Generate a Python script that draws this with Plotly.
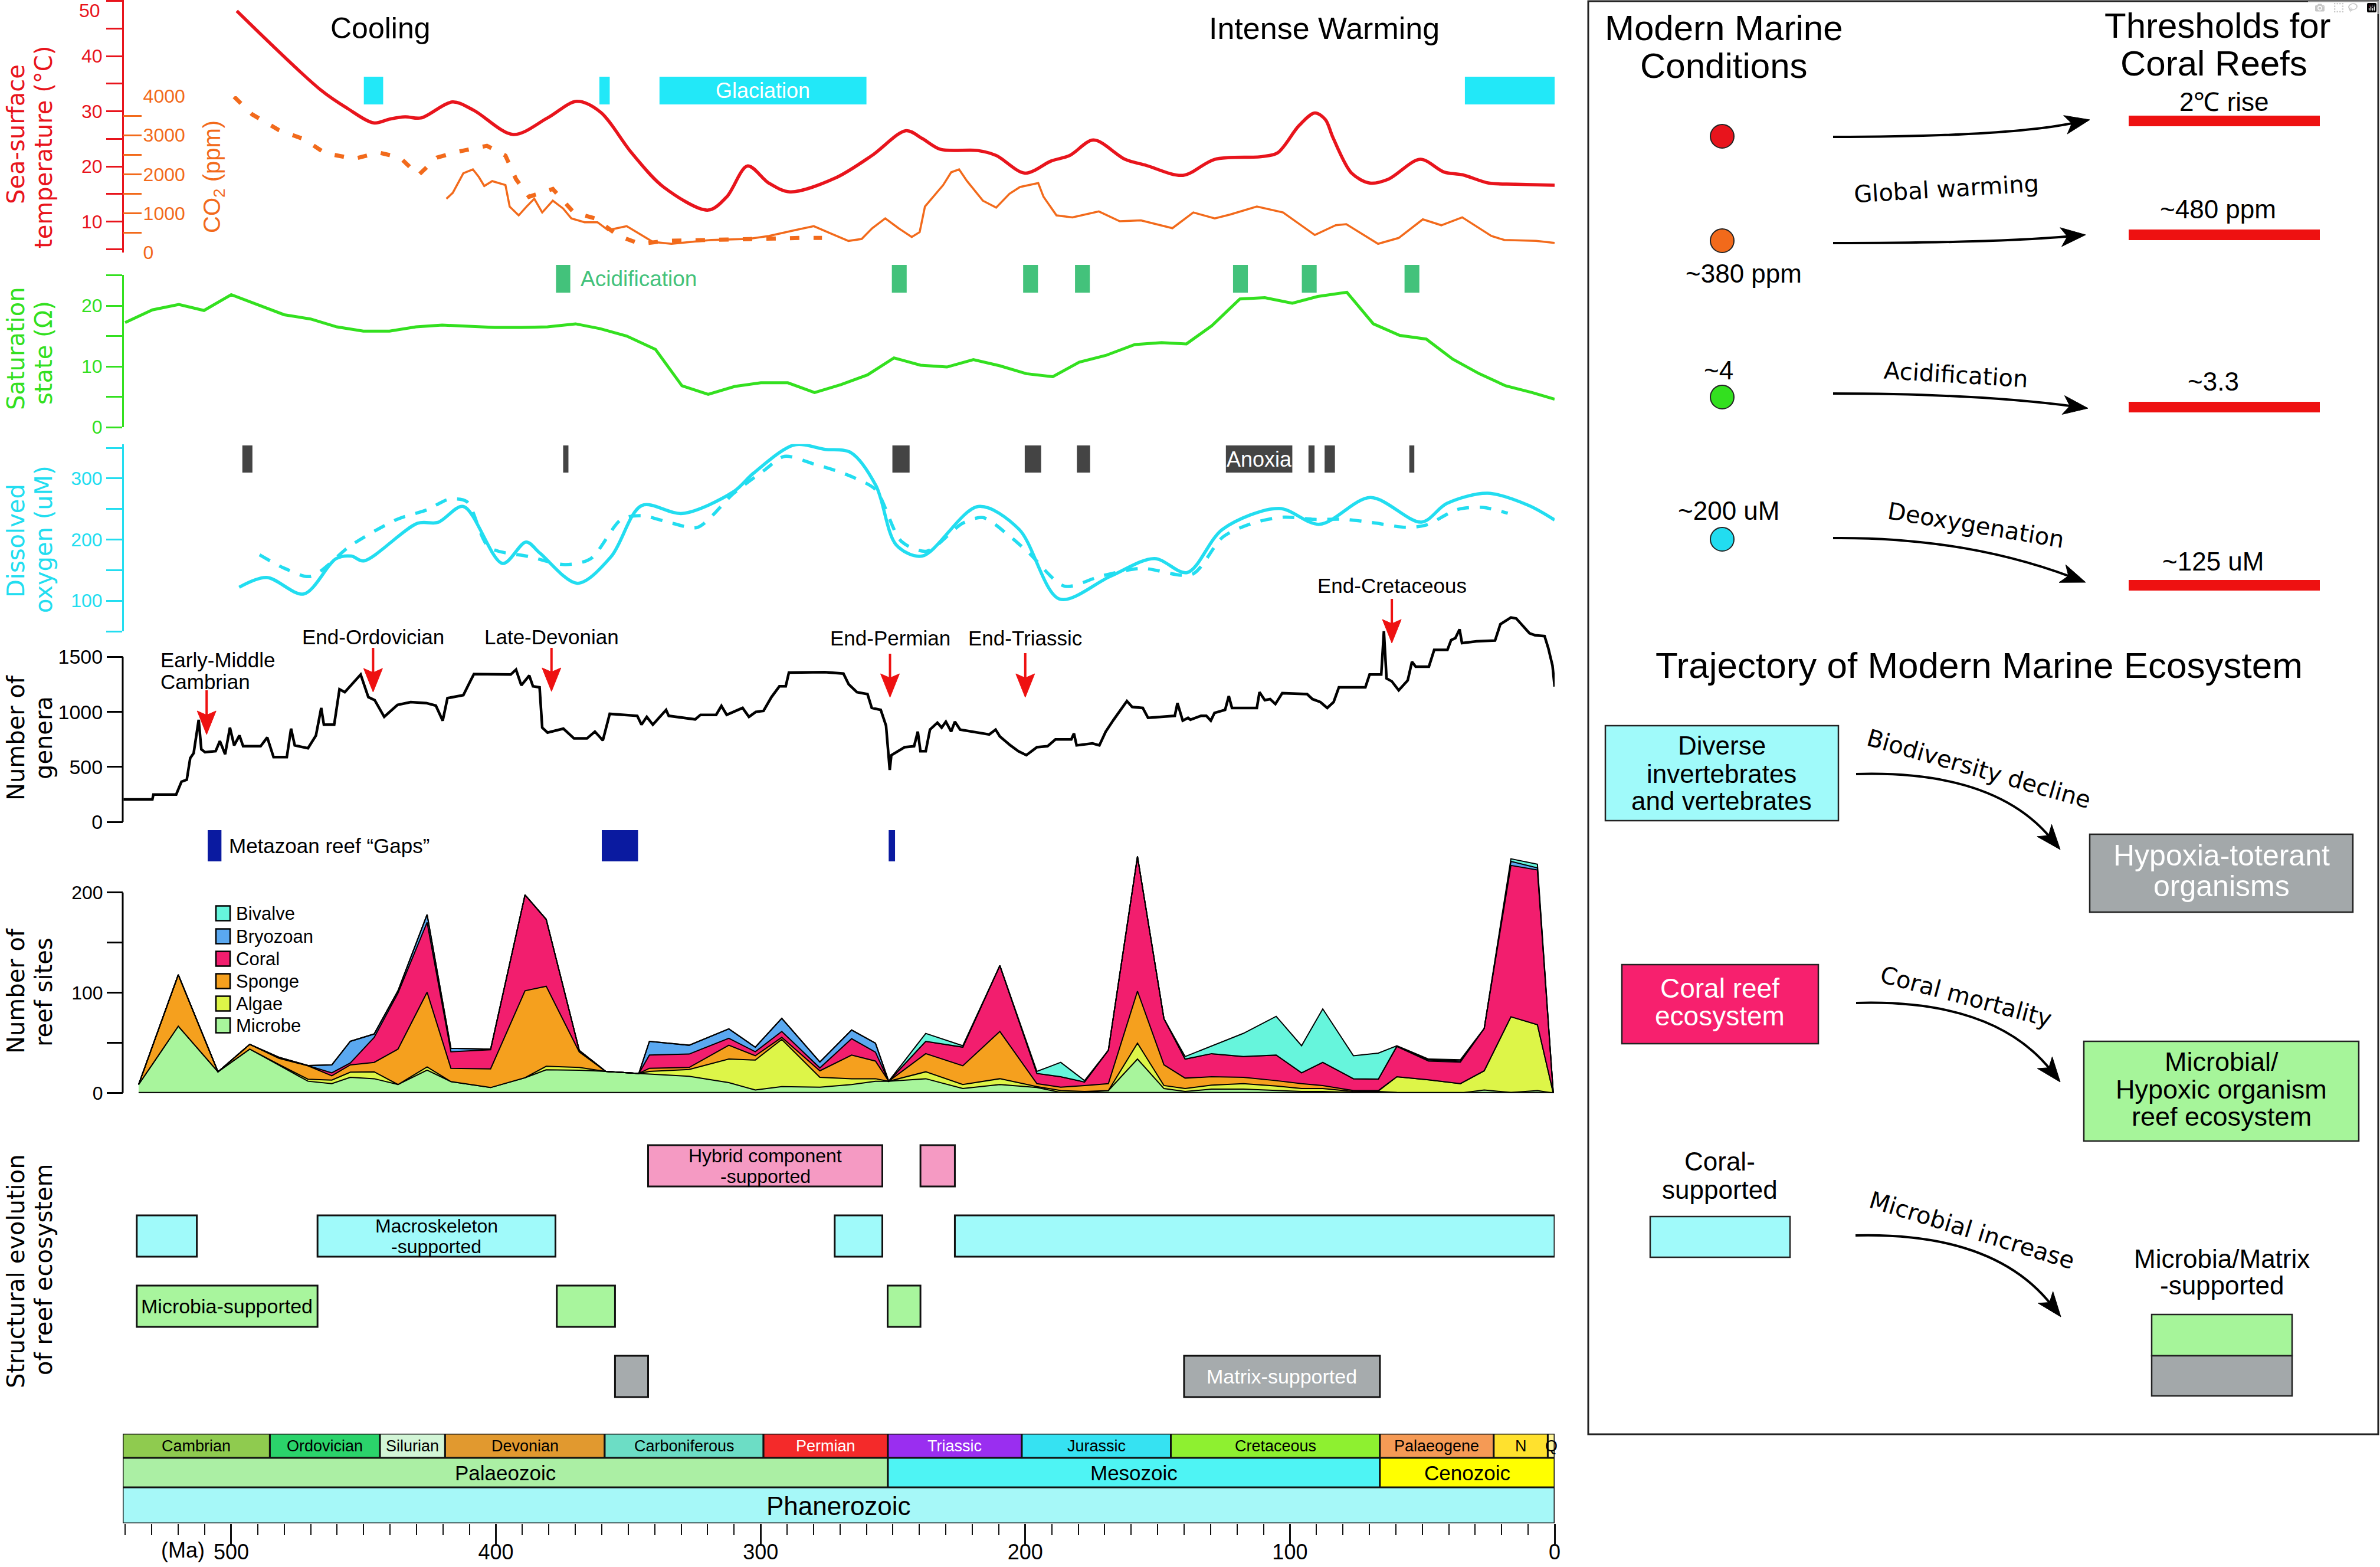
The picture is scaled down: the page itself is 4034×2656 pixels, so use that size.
import plotly.graph_objects as go

W, H = 4034, 2656
ARIAL = "Liberation Sans, Arial, Helvetica, sans-serif"
WIDE = "DejaVu Sans, Verdana, sans-serif"

RED = "#E8141C"
ORANGE = "#F26A1B"
GREEN = "#33E01F"
CYAN = "#22DDF0"
ACID = "#43C27B"
ARROWRED = "#EE1111"

# ======================= DATA =======================
# Sea-surface temperature (deg C)
sst_ma = [497.9, 466.0, 456.0, 446.2, 440.0, 434.3, 428.3, 416.4, 408.4, 393.4, 380.5, 369.5, 360.6,
          348.6, 336.7, 319.8, 312.8, 304.9, 296.9, 288.9, 271.8, 257.9, 245.0, 239.0, 232.0, 218.0,
          211.0, 200.1, 190.2, 183.2, 174.2, 162.3, 154.3, 140.4, 128.4, 110.5, 104.6, 96.6, 90.6,
          86.6, 83.7, 76.7, 69.8, 62.8, 50.8, 41.8, 34.8, 24.9, 14.9, 0.0]
sst_c = [48.2, 33.8, 30.5, 27.9, 28.6, 29.0, 28.8, 31.7, 30.2, 25.8, 28.8, 31.8, 29.9,
         22.4, 16.3, 12.1, 14.5, 20.1, 17.0, 15.4, 17.9, 22.0, 26.5, 25.1, 23.1, 22.9,
         22.0, 18.8, 21.0, 22.0, 24.8, 21.3, 20.2, 18.4, 21.3, 21.8, 22.5, 27.4, 29.7,
         28.5, 25.2, 18.8, 17.0, 17.7, 21.3, 19.0, 18.5, 17.0, 16.8, 16.6]

# CO2 (ppm) - dashed record
co2p_ma = [498.9, 492.1, 482.0, 472.5, 464.5, 453.5, 444.2, 436.2, 429.3, 422.3, 414.3, 403.4,
           396.4, 392.4, 387.5, 378.5, 370.6, 362.6, 353.6, 345.6, 335.7, 308.8, 284.9, 276.8]
co2p_ppm = [3986, 3535, 3132, 2900, 2540, 2400, 2556, 2430, 1977, 2430, 2580, 2731,
            2480, 1877, 1426, 1626, 1024, 873, 422, 221, 296, 346, 372, 372]

# CO2 (ppm) - solid record
co2m_ma = [418.7, 416.3, 412.3, 408.7, 406.4, 404.4, 401.4, 396.4, 394.8, 391.4, 388.4, 385.5,
           382.5, 378.5, 374.6, 371.5, 366.5, 361.6, 357.6, 350.6, 345.6, 340.7, 333.7, 318.7,
           304.8, 296.9, 286.9, 279.9, 273.8, 266.8, 261.8, 257.8, 252.9, 247.9, 242.9, 239.9,
           237.9, 231.0, 228.0, 225.0, 222.0, 216.0, 211.0, 206.0, 202.0, 195.1, 193.1, 188.2,
           182.2, 172.2, 164.3, 156.3, 144.4, 136.5, 128.4, 122.5, 112.5, 102.6, 90.6, 82.7,
           78.7, 66.7, 58.9, 49.8, 42.8, 34.9, 23.9, 19.0, 7.0, 0.0]
co2m_ppm = [1375, 1526, 2028, 2128, 1928, 1702, 1827, 1727, 1175, 949, 1175, 1375,
            1024, 1325, 1125, 873, 773, 773, 572, 673, 471, 271, 221, 321,
            346, 422, 572, 673, 497, 296, 346, 622, 873, 622, 396, 521,
            1175, 1727, 2053, 2128, 1827, 1325, 1149, 1501, 1676, 1777, 1426, 949,
            899, 1050, 798, 823, 622, 1024, 873, 973, 1175, 1024, 447, 697,
            723, 221, 372, 848, 697, 899, 422, 321, 296, 245]

# Carbonate saturation state (Omega)
omega_ma = [540.1, 529.8, 519.8, 510.3, 500.0, 490.0, 480.0, 470.0, 460.1, 450.1, 440.2, 430.2,
            420.3, 410.3, 400.4, 390.4, 380.5, 369.9, 360.6, 350.6, 339.7, 329.7, 319.8, 309.8,
            299.9, 289.7, 279.6, 269.6, 259.6, 249.6, 239.6, 229.6, 219.6, 209.6, 199.6, 189.6,
            179.6, 169.6, 158.6, 148.5, 139.1, 129.5, 118.9, 109.5, 99.1, 89.5, 78.5, 68.5,
            58.5, 48.5, 38.5, 28.5, 18.5, 8.5, 0.0]
omega_val = [17.2, 19.3, 20.2, 19.2, 21.8, 20.1, 18.5, 17.8, 16.5, 15.8, 15.8, 16.5,
             16.8, 16.6, 16.4, 16.4, 16.5, 17.0, 16.2, 15.0, 12.8, 6.8, 5.4, 6.7,
             7.3, 7.3, 5.7, 7.0, 8.6, 11.4, 10.2, 9.9, 11.1, 10.1, 8.8, 8.3,
             10.7, 11.8, 13.6, 13.9, 13.7, 16.7, 21.1, 21.3, 20.4, 21.5, 22.2, 17.0,
             15.1, 14.5, 11.2, 8.8, 6.8, 5.7, 4.6]

# Dissolved oxygen (uM) - solid
o2a_ma = [497.0, 486.6, 472.6, 460.4, 454.6, 450.0, 429.6, 421.9, 412.3, 397.5, 388.6, 383.4,
          369.2, 356.5, 344.9, 329.5, 310.3, 302.6, 287.2, 275.6, 266.0, 256.4, 248.7, 239.0,
          217.8, 202.4, 187.0, 167.8, 151.2, 138.8, 125.4, 104.2, 88.8, 69.6, 50.3, 40.7,
          25.3, 9.9, 0.0]
o2a_val = [122, 138, 111, 168.7, 173, 165, 226.6, 228, 254, 161, 196, 178,
           128.5, 172, 255.6, 242.7, 278, 308.8, 354.8, 347.4, 342.5, 288, 191, 173,
           254, 217, 102.7, 140, 169, 146, 217, 251, 225, 268.7, 228.5, 259,
           275.7, 256, 232]

# Dissolved oxygen (uM) - dashed
o2b_ma = [489.3, 479.7, 470.0, 454.6, 437.3, 425.8, 418.0, 411.0, 402.7, 387.3, 373.8, 364.2,
          352.6, 344.9, 333.4, 323.8, 310.3, 298.7, 291.0, 279.5, 271.8, 264.1, 256.4, 246.8,
          237.2, 223.7, 216.0, 206.3, 198.6, 185.1, 171.6, 156.2, 137.0, 125.4, 113.9, 102.4,
          90.8, 79.3, 67.7, 56.2, 48.5, 36.9, 27.3, 17.7]
o2b_val = [175, 152.6, 139.7, 191, 233, 249, 265.5, 262, 188, 172, 159, 168.7,
           233, 239, 226.6, 220, 275, 313, 336, 323, 313, 300, 281, 197,
           181, 226.6, 236, 207, 178, 123.7, 140, 153, 143, 204, 227, 236.6,
           233, 233, 227, 220, 223.7, 249, 252.6, 243]

# Number of genera
genera_ma = [540.7, 529.8, 529.4, 520.8, 518.8, 516.8, 515.5, 514.2, 512.3, 511.3, 509.9, 505.9,
             504.3, 502.3, 500.5, 498.9, 496.9, 495.5, 488.9, 486.4, 484.0, 479.0, 477.4, 476.0,
             471.0, 468.0, 466.0, 465.0, 461.1, 459.1, 457.1, 451.1, 448.2, 445.8, 442.2, 437.2,
             432.2, 426.3, 422.7, 420.1, 418.3, 412.3, 409.9, 408.3, 394.4, 392.4, 390.4, 387.4,
             386.0, 383.5, 382.5, 380.5, 374.5, 370.5, 365.6, 362.6, 359.6, 357.0, 346.6, 345.0,
             343.0, 340.7, 335.7, 334.7, 324.7, 322.7, 316.8, 314.8, 312.8, 306.8, 304.4, 301.8,
             298.9, 295.9, 292.9, 290.5, 289.3, 275.7, 268.7, 266.7, 263.6, 259.6, 258.0, 254.6,
             252.6, 251.6, 251.2, 250.6, 245.6, 242.0, 240.6, 239.6, 237.6, 236.0, 233.2, 231.6,
             230.0, 228.0, 226.6, 224.6, 213.6, 211.2, 209.6, 205.6, 202.6, 199.6, 195.6, 191.6,
             188.6, 182.6, 181.6, 180.6, 174.6, 172.0, 169.6, 166.6, 161.6, 159.6, 155.6, 153.6,
             143.5, 142.5, 140.5, 138.5, 137.6, 133.6, 131.6, 129.9, 128.5, 124.5, 123.1, 121.9,
             112.5, 111.5, 109.5, 107.5, 105.5, 102.9, 93.5, 91.5, 88.5, 85.9, 83.5, 81.5,
             71.5, 69.9, 65.5, 64.5, 63.5, 61.5, 58.9, 55.5, 53.9, 52.5, 47.5, 45.5,
             40.5, 39.1, 37.5, 35.9, 35.0, 29.5, 22.5, 20.5, 16.5, 14.5, 9.5, 7.4,
             3.8, 2.4, 0.8, 0.0]
genera_n = [205, 205, 250, 250, 366, 384, 580, 625, 928, 660, 634, 643,
            735, 616, 857, 696, 786, 688, 688, 768, 589, 589, 848, 696,
            670, 786, 1036, 884, 884, 1205, 1179, 1339, 1134, 1107, 955, 1063,
            1089, 1080, 1057, 920, 1125, 1152, 1268, 1343, 1339, 1384, 1241, 1330,
            1232, 1223, 857, 812, 848, 759, 759, 821, 741, 982, 964, 884,
            955, 884, 1018, 964, 932, 973, 973, 1054, 973, 1036, 955, 1000,
            1009, 1134, 1232, 1232, 1357, 1361, 1348, 1250, 1179, 1161, 1036, 1018,
            875, 607, 473, 607, 679, 688, 821, 643, 643, 839, 902, 857,
            911, 821, 911, 839, 795, 839, 777, 696, 643, 607, 679, 688,
            750, 750, 804, 696, 714, 696, 821, 929, 1098, 1045, 1036, 946,
            964, 1080, 920, 946, 929, 964, 964, 920, 991, 1018, 1143, 1036,
            1036, 1179, 1107, 1116, 1071, 1170, 1161, 1116, 1089, 1036, 1089, 1223,
            1223, 1339, 1339, 1732, 1304, 1277, 1196, 1286, 1455, 1411, 1411, 1563,
            1563, 1652, 1670, 1750, 1625, 1641, 1648, 1796, 1857, 1848, 1714, 1696,
            1688, 1580, 1420, 1230]

# Number of reef sites by reef builder (stacked)
reef_ma = [535, 520, 505, 493, 482, 471, 462, 455, 446, 437, 426, 417, 402, 389, 381, 368.5,
           358.5, 346, 342, 327, 312, 302, 292, 277.6, 265.6, 256.6, 251.6, 237.6, 223.6, 209.6,
           195.6, 186.6, 177.6, 168.6, 157.6, 147.6, 139.6, 129.6, 117.6, 105.2, 95.6, 87.6,
           76, 66.6, 59.6, 47.6, 35.6, 26.6, 16.5, 6.5, 0.5]
reef_microbe = [8.5, 66.7, 21.2, 43.8, 27.8, 11.8, 9.4, 15.7, 14.3, 8.5, 22.8, 11.4, 5.5, 15.3, 23.2, 22.8,
                21.6, 19.6, 18.8, 16.8, 10.4, 3.1, 6.5, 5.9, 8.5, 11.8, 11.8, 14.3, 4.5, 8.5,
                5.5, 0.6, 0.6, 2.5, 33.9, 4.5, 1.6, 3.9, 3.9, 2.5, 1.6, 1.6,
                0.6, 1.6, 0.5, 0, 0, 3.1, 0.6, 2.5, 0]
reef_algae = [0, 0, 0, 0, 0.7, 2.0, 3.5, 5.1, 6.9, 0, 3.3, 0, 0, 0, 3.5, 2.8,
              0, 0, 2.8, 6.7, 23.5, 29.8, 47.0, 9.8, 5.8, 2.5, 0, 6.9, 4.0, 5.8,
              1.0, 1.9, 1.0, 0, 15.8, 3.0, 2.9, 4.0, 5.5, 4.5, 2.9, 2.9,
              0.9, 0.4, 15.8, 13.2, 9.4, 19.1, 75.5, 65.7, 0]
reef_sponge = [0, 51.3, 0, 4.8, 6.2, 13.4, 4.3, 7.3, 9.4, 35.3, 74.5, 13.3, 18.6, 86.7, 79.8, 15.3,
               0, 0, 3.1, 2.0, 13.8, 4.3, 2.0, 6.5, 23.6, 17.6, 0, 18.1, 18.7, 47.1,
               2.9, 3.4, 5.9, 6.9, 51.9, 20.6, 10.4, 8.4, 6.3, 5.4, 4.9, 3.0,
               1.0, 0.5, 0, 0, 0, 0, 0, 0, 0]
reef_coral = [0, 0, 0, 0, 0.5, 0.1, 3.0, 1.9, 24.9, 55.9, 69.6, 16.5, 19.1, 95.6, 66.7, 1.6,
              0, 0, 13.2, 13.4, 6.9, 4.0, 5.9, 2.9, 16.3, 8.9, 0, 12.3, 18.6, 65.7,
              10.2, 10.4, 3.5, 33.3, 134.3, 46.0, 19.0, 23.0, 20.7, 25.5, 10.8, 23.1,
              11.8, 11.4, 30.1, 18.7, 21.4, 42.2, 150.9, 154.2, 0]
reef_bryozoan = [0, 0, 0, 0, 0.5, 0.2, 7.9, 21.6, 3.4, 2.3, 7.8, 3.5, 0.6, 0, 0, 0,
                 0, 0, 13.7, 8.8, 9.4, 4.5, 13.1, 5.9, 8.7, 8.9, 0, 0, 0, 0,
                 0, 0, 0, 0, 0, 0, 0, 0, 0, 0, 0, 0,
                 0, 0, 0.4, 1.0, 1.2, 0, 4.0, 2.1, 0]
reef_bivalve = [0, 0, 0, 0, 0, 0, 0, 0, 0, 0, 0, 0, 0, 0, 0, 0,
                0, 0, 0, 0, 0, 0, 0, 0, 0, 0, 0, 7.9, 1.4, 0,
                2.0, 14.3, 1.4, 0, 0, 0, 2.5, 7.5, 23.1, 38.6, 27.0, 53.3,
                22.9, 25.9, 0.4, 1.0, 1.2, 0, 2.6, 3.7, 0]
reef_names = ["Microbe", "Algae", "Sponge", "Coral", "Bryozoan", "Bivalve"]
reef_colors = ["#A8F59C", "#DDF548", "#F5A01E", "#F21E6E", "#5AA8F0", "#66F5DC"]

# Event intervals (Ma)
glac_start = [449.9, 360.9, 338.2, 33.9]
glac_end = [442.6, 357.0, 260.0, 0.0]
acid_start = [377.3, 250.4, 200.8, 181.2, 121.5, 95.5, 56.7]
acid_end = [371.9, 244.8, 195.2, 175.6, 115.9, 89.9, 51.1]
anox_start = [495.8, 374.6, 250.2, 200.2, 180.5, 124.2, 93.0, 86.9, 54.9]
anox_end = [492.0, 372.6, 243.7, 194.0, 175.5, 99.1, 90.7, 83.0, 53.0]
gap_start = [508.9, 360.0, 251.6]
gap_end = [503.7, 346.3, 249.2]

# Extinction events
event_names = ["Early-Middle\nCambrian", "End-Ordovician", "Late-Devonian", "End-Permian",
               "End-Triassic", "End-Cretaceous"]
event_ma = [509.3, 446.4, 379.0, 251.1, 200.0, 61.5]

# Geological time scale
period_names = ["Cambrian", "Ordovician", "Silurian", "Devonian", "Carboniferous", "Permian",
                "Triassic", "Jurassic", "Cretaceous", "Palaeogene", "N", "Q"]
period_start = [541.0, 485.4, 443.8, 419.2, 358.9, 298.9, 251.9, 201.3, 145.0, 66.0, 23.0, 2.58]
period_end = [485.4, 443.8, 419.2, 358.9, 298.9, 251.9, 201.3, 145.0, 66.0, 23.0, 2.58, 0.0]
period_colors = ["#8FCB4F", "#2BD36B", "#D2F5D6", "#E1992F", "#6CDDC5", "#F42A2A",
                 "#9A2EF0", "#36E2F2", "#8EF030", "#F59A55", "#FFE12E", "#FFF59A"]
era_names = ["Palaeozoic", "Mesozoic", "Cenozoic"]
era_start = [541.0, 251.9, 66.0]
era_end = [251.9, 66.0, 0.0]
era_colors = ["#ABEFA4", "#4EF4F4", "#FFFF00"]
eon_names = ["Phanerozoic"]
eon_start = [541.0]
eon_end = [0.0]
eon_colors = ["#A6F8F8"]

# Structural evolution of reef ecosystems
struct_kind = ["Hybrid", "Hybrid", "Macro", "Macro", "Macro", "Macro",
               "Microbia", "Microbia", "Microbia", "Matrix", "Matrix"]
struct_start = [342.5, 239.6, 535.7, 467.4, 272.0, 226.6, 535.7, 377.0, 252.0, 355.0, 140.0]
struct_end = [254.0, 226.6, 513.0, 377.5, 254.0, 0.0, 467.4, 355.0, 239.6, 342.5, 66.0]
struct_row = {"Hybrid": 4, "Macro": 3, "Microbia": 2, "Matrix": 1}
struct_color = {"Hybrid": "#F59AC3", "Macro": "#A0FAFA", "Microbia": "#A8F59D", "Matrix": "#A6ABAD"}

# axis tick labels
sst_ticks = [10, 20, 30, 40]
sst_top_label = "50"

# ======================= HELPERS =======================
def X(px):
    return px / W


def Y(py):
    return 1 - py / H


AX_X = X(208)
PX_PER_MA = (2635 - 208) / 541.0
fig = go.Figure()
shapes = []
anns = []


def txt(text, x, y, size, color="black", family=ARIAL, xref="paper", angle=0, xanchor="center"):
    anns.append(dict(text=text, x=x, y=y, xref=xref, yref="paper", showarrow=False,
                     font=dict(size=size, color=color, family=family), textangle=angle,
                     xanchor=xanchor, yanchor="middle"))


def band_bar(starts, ends, colors, yaxis, lw=0, center=0.5, width=1.0):
    fig.add_trace(go.Bar(orientation="h", y=[center] * len(starts),
                         x=[s - e for s, e in zip(starts, ends)], base=ends, width=width,
                         marker=dict(color=colors, line=dict(width=lw, color="#111111")),
                         xaxis="x", yaxis=yaxis, showlegend=False, hoverinfo="skip"))


# ======================= TRACES =======================
fig.add_trace(go.Scatter(x=co2p_ma, y=co2p_ppm, xaxis="x", yaxis="y2", mode="lines",
                         line=dict(color=ORANGE, width=7, dash="16px,24px"), showlegend=False))
fig.add_trace(go.Scatter(x=co2m_ma, y=co2m_ppm, xaxis="x", yaxis="y2", mode="lines",
                         line=dict(color=ORANGE, width=3.5), showlegend=False))
fig.add_trace(go.Scatter(x=sst_ma, y=sst_c, xaxis="x", yaxis="y", mode="lines",
                         line=dict(color=RED, width=5.5, shape="spline", smoothing=0.9), showlegend=False))
fig.add_trace(go.Scatter(x=omega_ma, y=omega_val, xaxis="x", yaxis="y3", mode="lines",
                         line=dict(color=GREEN, width=5), showlegend=False))
fig.add_trace(go.Scatter(x=o2b_ma, y=o2b_val, xaxis="x", yaxis="y4", mode="lines",
                         line=dict(color=CYAN, width=5.5, dash="20px,18px", shape="spline", smoothing=0.8),
                         showlegend=False))
fig.add_trace(go.Scatter(x=o2a_ma, y=o2a_val, xaxis="x", yaxis="y4", mode="lines",
                         line=dict(color=CYAN, width=5.5, shape="spline", smoothing=0.9), showlegend=False))
fig.add_trace(go.Scatter(x=genera_ma, y=genera_n, xaxis="x", yaxis="y5", mode="lines",
                         line=dict(color="black", width=4.5), showlegend=False))
layers = [reef_microbe, reef_algae, reef_sponge, reef_coral, reef_bryozoan, reef_bivalve]
for name, vals, col in zip(reef_names, layers, reef_colors):
    fig.add_trace(go.Scatter(x=reef_ma, y=vals, xaxis="x", yaxis="y6", stackgroup="reef", mode="lines",
                             line=dict(color="black", width=2), fillcolor=col, name=name,
                             showlegend=False))
fig.add_trace(go.Scatter(x=[reef_ma[0], reef_ma[-1]], y=[0, 0], xaxis="x", yaxis="y6", mode="lines",
                         line=dict(color="black", width=4), showlegend=False))

band_bar(glac_start, glac_end, "#22E8F8", "y7")
band_bar(acid_start, acid_end, ACID, "y8")
band_bar(anox_start, anox_end, "#444444", "y9")
band_bar(gap_start, gap_end, "#0A1AA0", "y10")

fig.add_trace(go.Bar(orientation="h", y=[struct_row[k] for k in struct_kind],
                     x=[s - e for s, e in zip(struct_start, struct_end)], base=struct_end, width=0.59,
                     marker=dict(color=[struct_color[k] for k in struct_kind],
                                 line=dict(width=3, color="#111111")),
                     xaxis="x", yaxis="y11", showlegend=False, hoverinfo="skip"))

band_bar(period_start, period_end, period_colors, "y12", lw=3)
band_bar(era_start, era_end, era_colors, "y13", lw=3)
band_bar(eon_start, eon_end, eon_colors, "y14", lw=3)

# ======================= TEXT =======================
txt("Cooling", X(645), Y(48), 50)
txt("Intense Warming", X(2244), Y(48), 52)
txt("Glaciation", (glac_start[2] + glac_end[2]) / 2, Y(153), 36, "white", xref="x")
txt("Acidification", X(982), Y(473), 37, ACID, xanchor="left")
txt("Anoxia", (anox_start[5] + anox_end[5]) / 2, Y(778), 36, "white", xref="x")
txt("Metazoan reef \u201cGaps\u201d", X(386), Y(1433), 35, xanchor="left")
txt(sst_top_label, X(172), Y(18), 32, RED, xanchor="right")

# extinction labels and arrows (shaft + head drawn as shapes on the time axis)
label_px = [(1118, "left"), (1079, "c"), (1080, "c"), (1081, "c"), (1081, "c"), (992, "c")]
arrow_px = [(1245, 1170), (1173, 1098), (1172, 1098), (1182, 1108), (1182, 1107), (1090, 1015)]
HW = 16.0 / PX_PER_MA
for name, ma, (ly, al), (tip, top) in zip(event_names, event_ma, label_px, arrow_px):
    if al == "left":
        l1, l2 = name.split("\n")
        txt(l1, X(270), Y(ly), 35, xanchor="left")
        txt(l2, X(270), Y(ly + 37), 35, xanchor="left")
    else:
        txt(name, ma, Y(ly), 35, xref="x")
    shapes.append(dict(type="line", xref="x", yref="paper", x0=ma, x1=ma, y0=Y(top), y1=Y(tip - 20),
                       line=dict(color=ARROWRED, width=4)))
    path = "M {},{} L {},{} L {},{} L {},{} Z".format(ma, Y(tip), ma - HW, Y(tip - 40), ma, Y(tip - 33),
                                                     ma + HW, Y(tip - 40))
    shapes.append(dict(type="path", xref="x", yref="paper", path=path, fillcolor=ARROWRED,
                       line=dict(color=ARROWRED, width=1)))

# structure labels
txt("Hybrid component", (struct_start[0] + struct_end[0]) / 2, Y(1959), 32, xref="x")
txt("-supported", (struct_start[0] + struct_end[0]) / 2, Y(1994), 32, xref="x")
txt("Macroskeleton", (struct_start[3] + struct_end[3]) / 2, Y(2078), 32, xref="x")
txt("-supported", (struct_start[3] + struct_end[3]) / 2, Y(2113), 32, xref="x")
txt("Microbia-supported", (struct_start[6] + struct_end[6]) / 2, Y(2214), 34, xref="x")
txt("Matrix-supported", (struct_start[10] + struct_end[10]) / 2, Y(2333), 34, "white", xref="x")

# time scale labels
for n, s, e in zip(period_names, period_start, period_end):
    col = "white" if n in ("Permian", "Triassic") else "black"
    txt(n, (s + e) / 2, Y(2451), 27, col, xref="x")
for n, s, e in zip(era_names, era_start, era_end):
    txt(n, (s + e) / 2, Y(2496), 35, xref="x")
for n, s, e in zip(eon_names, eon_start, eon_end):
    txt(n, (s + e) / 2, Y(2552), 44, xref="x")
txt("(Ma)", X(310), Y(2627), 36)

# axis titles (one annotation per line)
titles = [
    ("Sea-surface", "temperature (\u00b0C)", 228, 250, RED),
    ("Saturation", "state (\u03a9)", 591, 598, GREEN),
    ("Dissolved", "oxygen (uM)", 917, 914, CYAN),
    ("Number of", "genera", 1251, 1251, "black"),
    ("Number of", "reef sites", 1680, 1682, "black"),
    ("Structural evolution", "of reef ecosystem", 2155, 2152, "black"),
]
for l1, l2, y1, y2, col in titles:
    txt(l1, X(27), Y(y1), 40, col, WIDE, angle=-90)
    txt(l2, X(74), Y(y2), 40, col, WIDE, angle=-90)
txt("CO<sub>2</sub> (ppm)", X(362), Y(300), 40, ORANGE, ARIAL, angle=-90)

# reef legend (manual)
leg_y = [1548, 1587, 1625, 1663, 1701, 1738]
for (name, col), ly in zip(list(zip(reef_names, reef_colors))[::-1], leg_y):
    shapes.append(dict(type="rect", xref="paper", yref="paper", x0=X(366), x1=X(390),
                       y0=Y(ly + 12.5), y1=Y(ly - 12.5), fillcolor=col, line=dict(color="black", width=2.5)))
    txt(name, X(398), Y(ly), 31, xanchor="left")

# axis lines drawn only over the labelled span
shapes.append(dict(type="line", xref="paper", yref="y5", x0=AX_X, x1=AX_X, y0=0, y1=1500,
                   line=dict(color="black", width=3)))
shapes.append(dict(type="line", xref="paper", yref="y6", x0=AX_X, x1=AX_X, y0=0, y1=200,
                   line=dict(color="black", width=3)))

# ======================= RIGHT PANEL =======================
shapes.append(dict(type="rect", xref="paper", yref="paper", x0=X(2692), x1=X(4031), y0=Y(2431), y1=Y(2),
                   line=dict(color="#222222", width=3), fillcolor="rgba(0,0,0,0)"))
txt("Modern Marine", X(2922), Y(47), 60)
txt("Conditions", X(2922), Y(111), 60)
txt("Thresholds for", X(3759), Y(44), 60)
txt("Coral Reefs", X(3752), Y(107), 60)

dot_cols = [RED, ORANGE, GREEN, CYAN]
dot_y = [231, 408, 673, 914]
for c, dy in zip(dot_cols, dot_y):
    shapes.append(dict(type="circle", xref="paper", yref="paper", x0=X(2899), x1=X(2939),
                       y0=Y(dy + 20), y1=Y(dy - 20), fillcolor=c, line=dict(color="#222222", width=2)))
txt("~380 ppm", X(2955), Y(463), 44)
txt("~4", X(2913), Y(627), 44)
txt("~200 uM", X(2930), Y(866), 44)

for ty in [205, 398, 690, 992]:
    shapes.append(dict(type="rect", xref="paper", yref="paper", x0=X(3608), x1=X(3932),
                       y0=Y(ty + 9), y1=Y(ty - 9), fillcolor="#EE1111", line=dict(width=0)))
txt("2\u2103 rise", X(3770), Y(172), 44)
txt("~480 ppm", X(3759), Y(354), 44)
txt("~3.3", X(3751), Y(647), 44)
txt("~125 uM", X(3751), Y(951), 44)


def curved_arrow(p0, c, p1, width=4):
    dx, dy = p1[0] - c[0], p1[1] - c[1]
    L = (dx * dx + dy * dy) ** 0.5
    ux, uy = dx / L, dy / L
    nx, ny = -uy, ux
    end = (p1[0] - ux * 25, p1[1] - uy * 25)
    path = "M {},{} Q {},{} {},{}".format(X(p0[0]), Y(p0[1]), X(c[0]), Y(c[1]), X(end[0]), Y(end[1]))
    shapes.append(dict(type="path", path=path, xref="paper", yref="paper",
                       line=dict(color="black", width=width)))
    pts = [p1,
           (p1[0] - ux * 42 + nx * 16, p1[1] - uy * 42 + ny * 16),
           (p1[0] - ux * 31, p1[1] - uy * 31),
           (p1[0] - ux * 42 - nx * 16, p1[1] - uy * 42 - ny * 16)]
    head = "M " + " L ".join("{},{}".format(X(px), Y(py)) for px, py in pts) + " Z"
    shapes.append(dict(type="path", path=head, xref="paper", yref="paper", fillcolor="black",
                       line=dict(color="black", width=1)))


curved_arrow((3107, 232), (3400, 232), (3542, 203))
curved_arrow((3107, 412), (3380, 412), (3535, 398))
curved_arrow((3107, 667), (3350, 667), (3539, 692))
curved_arrow((3107, 912), (3330, 910), (3535, 987))
txt("Global warming", X(3299), Y(320), 40, "black", WIDE, angle=-3.5)
txt("Acidification", X(3315), Y(635), 40, "black", WIDE, angle=3.5)
txt("Deoxygenation", X(3349), Y(890), 40, "black", WIDE, angle=9.5)

txt("Trajectory of Modern Marine Ecosystem", X(3354), Y(1128), 62)


def box(x0, y0, x1, y1, fill):
    shapes.append(dict(type="rect", xref="paper", yref="paper", x0=X(x0), x1=X(x1), y0=Y(y1), y1=Y(y0),
                       fillcolor=fill, line=dict(color="#222222", width=2.5)))


box(2721, 1230, 3116, 1391, "#A0FAFA")
box(3542, 1414, 3988, 1546, "#A3A8AA")
box(2749, 1635, 3082, 1769, "#F7206E")
box(3532, 1765, 3998, 1934, "#A6F59A")
box(2797, 2062, 3034, 2131, "#A0FAFA")
box(3647, 2228, 3885, 2298, "#A6F59A")
box(3647, 2298, 3885, 2366, "#A3A8AA")

txt("Diverse", X(2918), Y(1264), 44)
txt("invertebrates", X(2918), Y(1312), 44)
txt("and vertebrates", X(2918), Y(1357), 44)
txt("Hypoxia-toterant", X(3765), Y(1450), 50, "white")
txt("organisms", X(3765), Y(1502), 50, "white")
txt("Coral reef", X(2915), Y(1675), 46, "white")
txt("ecosystem", X(2915), Y(1722), 46, "white")
txt("Microbial/", X(3765), Y(1799), 45)
txt("Hypoxic organism", X(3765), Y(1846), 45)
txt("reef ecosystem", X(3765), Y(1892), 45)
txt("Coral-", X(2915), Y(1969), 44)
txt("supported", X(2915), Y(2016), 44)
txt("Microbia/Matrix", X(3766), Y(2133), 44)
txt("-supported", X(3766), Y(2178), 44)

curved_arrow((3146, 1312), (3380, 1305), (3492, 1440))
curved_arrow((3146, 1700), (3380, 1693), (3492, 1834))
curved_arrow((3145, 2094), (3380, 2088), (3493, 2232))
txt("Biodiversity decline", X(3354), Y(1303), 40, "black", WIDE, angle=16)
txt("Coral mortality", X(3332), Y(1689), 40, "black", WIDE, angle=15)
txt("Microbial increase", X(3342), Y(2085), 40, "black", WIDE, angle=17)

# ======================= LAYOUT =======================
def yax(top, bottom, rng, **kw):
    d = dict(domain=[Y(bottom), Y(top)], range=rng, anchor="free", position=AX_X,
             showgrid=False, zeroline=False, fixedrange=True, automargin=False)
    d.update(kw)
    return d


def ticks(color, dtick, minor=None, side="outside", ln=27, size=32, **kw):
    d = dict(ticks=side, ticklen=ln, tickwidth=3, tickcolor=color, dtick=dtick, tick0=0,
             tickfont=dict(family=ARIAL, size=size, color=color))
    if minor:
        d["minor"] = dict(dtick=minor, tick0=0, ticks=side, ticklen=ln, tickwidth=3, tickcolor=color)
    d.update(kw)
    return d


def band(top, bottom):
    return dict(domain=[Y(bottom), Y(top)], range=[0, 1], anchor="free", position=AX_X,
                visible=False, fixedrange=True, automargin=False)


sst_axis = ticks(RED, 10, 5)
sst_axis.pop("dtick")
sst_axis.update(tickmode="array", tickvals=sst_ticks, ticktext=[str(v) for v in sst_ticks])

layout = dict(
    width=W, height=H, autosize=False,
    margin=dict(l=0, r=0, t=0, b=0, pad=0, autoexpand=False),
    paper_bgcolor="white", plot_bgcolor="rgba(0,0,0,0)",
    barmode="overlay", showlegend=False,
    font=dict(family=ARIAL, size=30, color="black"),
    xaxis=dict(domain=[X(208), X(2635)], range=[541, 0], anchor="y14", side="bottom",
               showline=False, showgrid=False, zeroline=False, fixedrange=True, automargin=False,
               ticklabeloverflow="allow", ticklabelstandoff=-17,
               ticks="outside", ticklen=34, tickwidth=2.5, tickcolor="#111111", dtick=100, tick0=0,
               tickfont=dict(family=ARIAL, size=36, color="black"),
               minor=dict(dtick=10, tick0=0, ticks="outside", ticklen=19, tickwidth=2, tickcolor="#111111")),
    yaxis=yax(0, 428, [4.41, 50.18], showline=True, linecolor=RED, linewidth=3, **sst_axis),
    yaxis2=yax(163, 428, [-1, 4001], showline=False, ticklabelposition="inside", ticklabeloverflow="allow",
               ticklabelstandoff=6, **ticks(ORANGE, 1000, 500, side="inside", ln=31)),
    yaxis3=yax(466, 724, [0, 25.05], showline=True, linecolor=GREEN, linewidth=3, **ticks(GREEN, 10, 5)),
    yaxis4=yax(752.8, 1070, [50, 356], showline=True, linecolor=CYAN, linewidth=3, **ticks(CYAN, 100, 50)),
    yaxis5=yax(1038.6, 1393.3, [0, 1900], showline=False, **ticks("black", 500, size=34)),
    yaxis6=yax(1444.7, 1852.7, [0, 240], showline=False, **ticks("black", 100, 50)),
    yaxis7=band(130, 177),
    yaxis8=band(449, 496),
    yaxis9=band(755, 801),
    yaxis10=band(1407, 1460),
    yaxis11=dict(domain=[Y(2392.5), Y(1916.5)], range=[0.5, 4.5], anchor="free", position=AX_X,
                 visible=False, fixedrange=True, automargin=False),
    yaxis12=band(2430, 2471),
    yaxis13=band(2471, 2521),
    yaxis14=band(2521, 2582),
    shapes=shapes,
    annotations=anns,
)
fig.update_layout(**layout)

fig.write_html("out.html", post_script="document.body.style.margin='0';document.body.style.overflow='hidden';")
